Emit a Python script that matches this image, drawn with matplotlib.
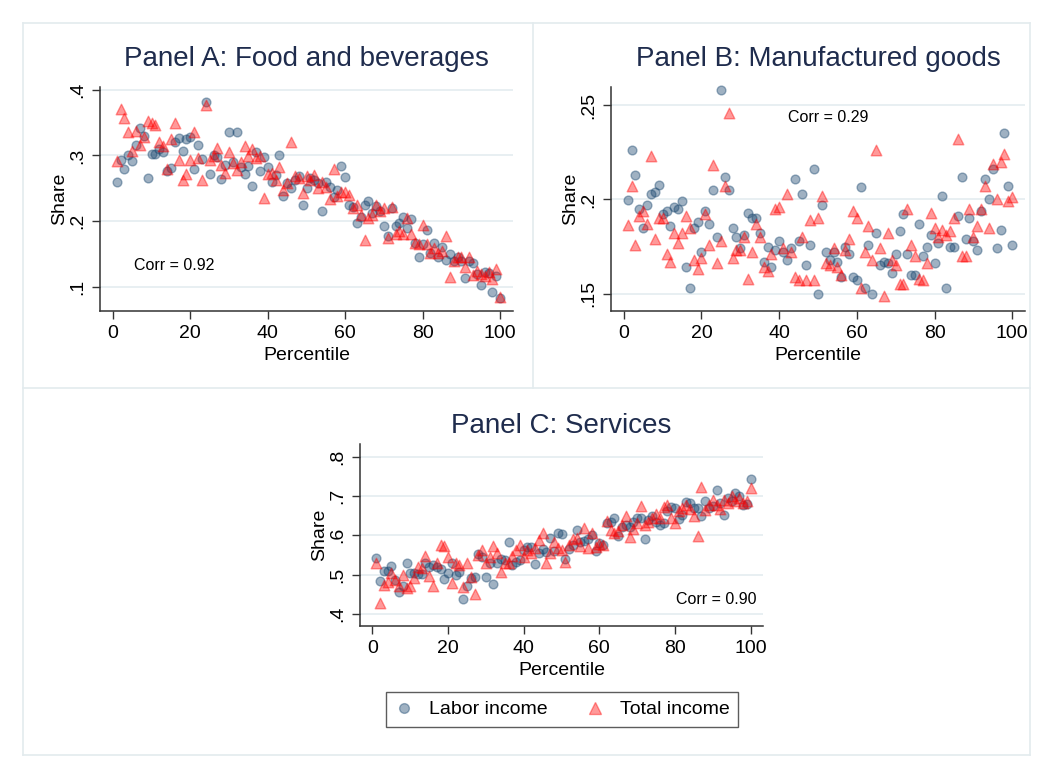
import numpy as np
import matplotlib
matplotlib.use('Agg')
import matplotlib.pyplot as plt
from matplotlib.lines import Line2D

plt.rcParams['font.family'] = ['Liberation Sans', 'DejaVu Sans']

#++++++++++++++++++++++++++++++++++++++++++++++
# Data (share by percentile)
#++++++++++++++++++++++++++++++++++++++++++++++
percentile = np.arange(1, 101)

food_labor = [0.260, 0.293, 0.280, 0.301, 0.292, 0.316, 0.342, 0.329, 0.266, 0.302,
              0.302, 0.310, 0.305, 0.277, 0.281, 0.320, 0.326, 0.306, 0.325, 0.328,
              0.279, 0.316, 0.295, 0.381, 0.272, 0.300, 0.298, 0.264, 0.285, 0.335,
              0.290, 0.335, 0.283, 0.272, 0.284, 0.253, 0.305, 0.277, 0.298, 0.283,
              0.260, 0.270, 0.301, 0.239, 0.258, 0.250, 0.262, 0.268, 0.224, 0.250,
              0.266, 0.263, 0.258, 0.215, 0.259, 0.252, 0.237, 0.247, 0.284, 0.267,
              0.225, 0.222, 0.197, 0.207, 0.225, 0.230, 0.212, 0.223, 0.216, 0.192,
              0.178, 0.220, 0.192, 0.197, 0.207, 0.189, 0.203, 0.167, 0.146, 0.165,
              0.187, 0.151, 0.167, 0.146, 0.161, 0.141, 0.150, 0.139, 0.146, 0.140,
              0.113, 0.139, 0.137, 0.120, 0.103, 0.123, 0.121, 0.092, 0.116, 0.084]
food_total = [0.291, 0.371, 0.357, 0.335, 0.306, 0.337, 0.316, 0.328, 0.352, 0.349,
              0.346, 0.320, 0.314, 0.280, 0.325, 0.349, 0.293, 0.263, 0.271, 0.293,
              0.336, 0.296, 0.262, 0.376, 0.293, 0.299, 0.311, 0.286, 0.274, 0.305,
              0.289, 0.278, 0.290, 0.315, 0.299, 0.309, 0.296, 0.299, 0.235, 0.272,
              0.274, 0.262, 0.282, 0.248, 0.258, 0.321, 0.268, 0.266, 0.243, 0.268,
              0.262, 0.270, 0.250, 0.260, 0.252, 0.234, 0.279, 0.238, 0.245, 0.245,
              0.240, 0.220, 0.225, 0.210, 0.172, 0.205, 0.210, 0.225, 0.215, 0.220,
              0.175, 0.222, 0.180, 0.185, 0.180, 0.205, 0.180, 0.167, 0.165, 0.194,
              0.165, 0.151, 0.160, 0.151, 0.155, 0.177, 0.115, 0.140, 0.146, 0.146,
              0.130, 0.146, 0.118, 0.125, 0.120, 0.116, 0.123, 0.112, 0.127, 0.085]

manuf_labor = [0.1995, 0.226, 0.213, 0.195, 0.185, 0.197, 0.203, 0.204, 0.2075, 0.192,
               0.194, 0.186, 0.196, 0.195, 0.199, 0.164, 0.153, 0.185, 0.188, 0.172,
               0.194, 0.187, 0.205, 0.180, 0.258, 0.212, 0.205, 0.185, 0.180, 0.174,
               0.181, 0.193, 0.190, 0.190, 0.182, 0.167, 0.175, 0.164, 0.173, 0.178,
               0.172, 0.168, 0.174, 0.211, 0.178, 0.203, 0.165, 0.176, 0.216, 0.150,
               0.197, 0.172, 0.168, 0.172, 0.167, 0.159, 0.175, 0.171, 0.159, 0.157,
               0.2065, 0.153, 0.176, 0.150, 0.182, 0.165, 0.167, 0.166, 0.161, 0.171,
               0.183, 0.192, 0.171, 0.160, 0.160, 0.187, 0.170, 0.175, 0.181, 0.166,
               0.177, 0.202, 0.153, 0.175, 0.175, 0.191, 0.212, 0.179, 0.190, 0.178,
               0.173, 0.194, 0.211, 0.200, 0.216, 0.174, 0.184, 0.235, 0.207, 0.176]
manuf_total = [0.1865, 0.207, 0.176, 0.191, 0.194, 0.187, 0.223, 0.179, 0.190, 0.190,
               0.171, 0.167, 0.182, 0.177, 0.182, 0.191, 0.185, 0.168, 0.163, 0.169,
               0.192, 0.176, 0.218, 0.166, 0.178, 0.207, 0.2456, 0.169, 0.173, 0.173,
               0.180, 0.158, 0.172, 0.187, 0.180, 0.164, 0.162, 0.171, 0.195, 0.196,
               0.174, 0.203, 0.172, 0.159, 0.157, 0.180, 0.157, 0.189, 0.157, 0.190,
               0.202, 0.166, 0.165, 0.174, 0.164, 0.160, 0.173, 0.179, 0.194, 0.190,
               0.153, 0.172, 0.186, 0.168, 0.226, 0.174, 0.149, 0.182, 0.168, 0.165,
               0.155, 0.155, 0.195, 0.176, 0.170, 0.158, 0.157, 0.166, 0.193, 0.185,
               0.180, 0.184, 0.181, 0.183, 0.190, 0.232, 0.170, 0.170, 0.195, 0.180,
               0.186, 0.195, 0.207, 0.185, 0.219, 0.200, 0.220, 0.224, 0.199, 0.201]

serv_labor = [0.543, 0.484, 0.510, 0.508, 0.523, 0.487, 0.457, 0.470, 0.529, 0.504,
              0.504, 0.502, 0.502, 0.529, 0.520, 0.525, 0.520, 0.514, 0.489, 0.503,
              0.529, 0.500, 0.507, 0.438, 0.470, 0.491, 0.495, 0.552, 0.545, 0.493,
              0.530, 0.475, 0.530, 0.541, 0.537, 0.584, 0.525, 0.533, 0.537, 0.562,
              0.571, 0.571, 0.527, 0.554, 0.564, 0.558, 0.594, 0.561, 0.605, 0.604,
              0.539, 0.565, 0.575, 0.614, 0.584, 0.586, 0.590, 0.600, 0.559, 0.580,
              0.576, 0.631, 0.635, 0.644, 0.598, 0.620, 0.627, 0.620, 0.635, 0.644,
              0.644, 0.590, 0.640, 0.650, 0.635, 0.627, 0.630, 0.661, 0.673, 0.669,
              0.641, 0.652, 0.684, 0.682, 0.669, 0.669, 0.650, 0.686, 0.669, 0.675,
              0.714, 0.682, 0.652, 0.695, 0.686, 0.707, 0.700, 0.678, 0.680, 0.743]
serv_total = [0.529, 0.427, 0.474, 0.482, 0.504, 0.487, 0.472, 0.500, 0.466, 0.470,
              0.491, 0.520, 0.516, 0.548, 0.497, 0.470, 0.529, 0.576, 0.572, 0.546,
              0.478, 0.530, 0.525, 0.468, 0.529, 0.495, 0.451, 0.550, 0.563, 0.529,
              0.546, 0.572, 0.554, 0.506, 0.529, 0.530, 0.548, 0.563, 0.576, 0.546,
              0.563, 0.554, 0.567, 0.588, 0.605, 0.529, 0.554, 0.584, 0.567, 0.563,
              0.533, 0.576, 0.590, 0.593, 0.574, 0.618, 0.567, 0.605, 0.570, 0.578,
              0.576, 0.637, 0.614, 0.605, 0.610, 0.627, 0.648, 0.595, 0.616, 0.630,
              0.675, 0.627, 0.635, 0.644, 0.654, 0.644, 0.673, 0.678, 0.644, 0.630,
              0.661, 0.669, 0.678, 0.667, 0.650, 0.597, 0.723, 0.665, 0.678, 0.690,
              0.678, 0.667, 0.690, 0.682, 0.699, 0.688, 0.695, 0.682, 0.686, 0.720]

titles = ['Panel A: Food and beverages', 'Panel B: Manufactured goods', 'Panel C: Services']
corr_labels = ['Corr = 0.92', 'Corr = 0.29', 'Corr = 0.90']
x_ticks = [0, 20, 40, 60, 80, 100]
y_ticks_a = [0.1, 0.2, 0.3, 0.4]
y_labels_a = ['.1', '.2', '.3', '.4']
y_ticks_b = [0.15, 0.2, 0.25]
y_labels_b = ['.15', '.2', '.25']
y_ticks_c = [0.4, 0.5, 0.6, 0.7, 0.8]
y_labels_c = ['.4', '.5', '.6', '.7', '.8']

#++++++++++++++++++++++++++++++++++++++++++++++
# Style
#++++++++++++++++++++++++++++++++++++++++++++++
W, H = 1045, 768
navy = (26/255, 71/255, 111/255, 0.42)
red = (1.0, 0.0, 0.0, 0.40)
grid_col = '#e6eef1'
frame_col = '#e3ebee'
title_col = '#1f2c4d'

fig = plt.figure(figsize=(W/100, H/100), dpi=100)
fig.patch.set_facecolor('white')

def px_axes(x0, y0, x1, y1):
    # axes placed by pixel box (top-left origin)
    return fig.add_axes([x0/W, 1 - y1/H, (x1 - x0)/W, (y1 - y0)/H])

def fig_line(x0, y0, x1, y1):
    fig.add_artist(Line2D([x0/W, x1/W], [1 - y0/H, 1 - y1/H], color=frame_col, lw=1.2))

# outer frame and panel dividers
fig_line(23, 23, 1030, 23)
fig_line(23, 755, 1030, 755)
fig_line(23, 23, 23, 755)
fig_line(1030, 23, 1030, 755)
fig_line(533, 23, 533, 388)
fig_line(23, 388, 1030, 388)

def panel(ax, labor, total, title, corr, corr_xy, corr_ha, yticks, ylabels, ylim, tpad):
    ax.scatter(percentile, labor, s=40, marker='o', facecolor=navy, edgecolor=navy,
               linewidths=1.0, zorder=3, clip_on=False)
    ax.scatter(percentile, total, s=58, marker='^', facecolor=red, edgecolor=red,
               linewidths=1.0, zorder=4, clip_on=False)
    ax.set_xlim(-3.3, 103.3)
    ax.set_ylim(*ylim)
    ax.set_xticks(x_ticks)
    ax.set_yticks(yticks)
    ax.set_yticklabels(ylabels, rotation=90, va='center')
    ax.grid(axis='y', color=grid_col, lw=1.3, zorder=0)
    ax.set_axisbelow(True)
    for s in ['top', 'right']:
        ax.spines[s].set_visible(False)
    for s in ['left', 'bottom']:
        ax.spines[s].set_color('#333333')
        ax.spines[s].set_linewidth(1.1)
    ax.tick_params(direction='out', length=6, width=1, color='#333333',
                   labelsize=14, pad=4)
    ax.set_xlabel('Percentile', fontsize=14, labelpad=4)
    ax.set_ylabel('Share', fontsize=14, labelpad=1)
    ax.set_title(title, fontsize=20, color=title_col, pad=tpad)
    ax.text(corr_xy[0], corr_xy[1], corr, fontsize=11.5, ha=corr_ha, va='center')

axA = px_axes(100, 87, 513, 311)
panel(axA, food_labor, food_total, titles[0], corr_labels[0], (5.6, 0.132), 'left',
      y_ticks_a, y_labels_a, (0.0635, 0.404), 15)

axB = px_axes(611, 87, 1025, 311)
panel(axB, manuf_labor, manuf_total, titles[1], corr_labels[1], (42.3, 0.2436), 'left',
      y_ticks_b, y_labels_b, (0.1408, 0.2596), 15)

axC = px_axes(360, 444, 763, 626)
panel(axC, serv_labor, serv_total, titles[2], corr_labels[2], (101.5, 0.437), 'right',
      y_ticks_c, y_labels_c, (0.3695, 0.832), 8)

#++++++++++++++++++++++++++++++++++++++++++++++
# Legend
#++++++++++++++++++++++++++++++++++++++++++++++
h1 = Line2D([], [], marker='o', ls='none', markersize=7, markerfacecolor=navy,
            markeredgecolor=navy)
h2 = Line2D([], [], marker='^', ls='none', markersize=8, markerfacecolor=red,
            markeredgecolor=red)
leg = fig.legend([h1, h2], ['Labor income', 'Total income'], loc='center',
                 bbox_to_anchor=(562/W, 1 - 709.5/H), ncol=2, fontsize=14,
                 frameon=True, fancybox=False, edgecolor='#333333',
                 handlelength=1.0, handletextpad=0.8, columnspacing=1.9,
                 borderpad=0.45)
leg.get_frame().set_linewidth(1.0)

fig.savefig('out.png', dpi=100)
